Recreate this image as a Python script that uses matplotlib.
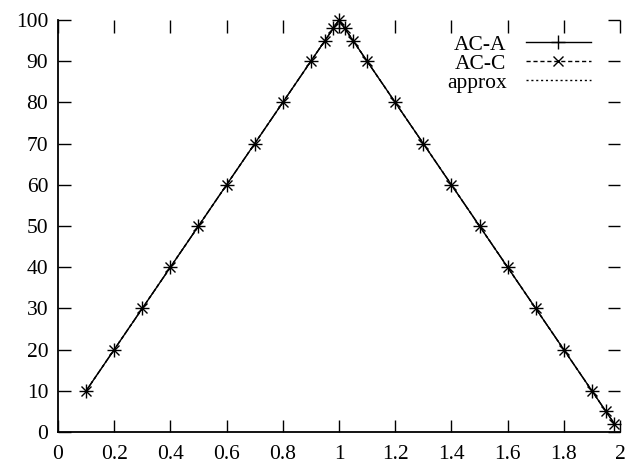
import matplotlib.pyplot as plt

# sample points on the rising and falling edges
x_vals = [0.1, 0.2, 0.3, 0.4, 0.5, 0.6, 0.7, 0.8, 0.9, 0.95, 0.98, 1.0,
          1.02, 1.05, 1.1, 1.2, 1.3, 1.4, 1.5, 1.6, 1.7, 1.8, 1.9, 1.95, 1.98]
ac_a = [10, 20, 30, 40, 50, 60, 70, 80, 90, 95, 98, 100,
        98, 95, 90, 80, 70, 60, 50, 40, 30, 20, 10, 5, 2]
ac_c = [10, 20, 30, 40, 50, 60, 70, 80, 90, 95, 98, 100,
        98, 95, 90, 80, 70, 60, 50, 40, 30, 20, 10, 5, 2]
approx_x = [0.1, 1.0, 1.98]
approx_y = [10, 100, 2]

x_ticks = [0, 0.2, 0.4, 0.6, 0.8, 1.0, 1.2, 1.4, 1.6, 1.8, 2.0]
x_labels = ["0", "0.2", "0.4", "0.6", "0.8", "1", "1.2", "1.4", "1.6", "1.8", "2"]
y_ticks = list(range(0, 101, 10))

plt.rcParams["font.family"] = ["Liberation Serif", "DejaVu Serif"]
plt.rcParams["font.size"] = 15.5

fig = plt.figure(figsize=(6.29, 4.67), dpi=100)
ax = fig.add_axes([0.0922, 0.0749, 0.8935, 0.8823])

ax.plot(x_vals, ac_a, color="black", lw=1.0, marker="+", ms=10, mew=1.0,
        clip_on=False, label="AC-A")
ax.plot(x_vals, ac_c, color="black", lw=1.0, ls=(0, (3, 2)), marker="x", ms=7, mew=1.0,
        clip_on=False, label="AC-C")
ax.plot(approx_x, approx_y, color="black", lw=1.0, ls=(0, (1.5, 2)), label="approx")

ax.set_xlim(0, 2)
ax.set_ylim(0, 100)
ax.set_xticks(x_ticks)
ax.set_xticklabels(x_labels)
ax.set_yticks(y_ticks)

ax.spines["top"].set_visible(False)
ax.spines["right"].set_visible(False)
ax.spines["left"].set_linewidth(1.3)
ax.spines["bottom"].set_linewidth(1.3)
ax.tick_params(direction="in", top=True, right=True, length=9, width=1.0)
ax.tick_params(axis="x", pad=9)
ax.tick_params(axis="y", pad=7)

ax.legend(loc="upper right", bbox_to_anchor=(0.963, 0.985), frameon=False,
          markerfirst=False, handlelength=3.0, handletextpad=0.9,
          labelspacing=-0.05, borderaxespad=0)

fig.savefig("out.png", dpi=100)
